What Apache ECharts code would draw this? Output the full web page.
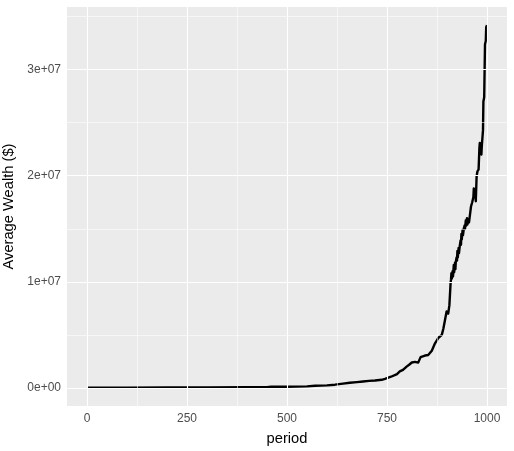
<!DOCTYPE html>
<html>
<head>
<meta charset="utf-8">
<script src="https://cdn.jsdelivr.net/npm/echarts@6/dist/echarts.min.js"></script>
<style>
  html, body { margin: 0; padding: 0; background: #fff; }
  #chart { width: 514px; height: 451px; }
</style>
</head>
<body>
<div id="chart"></div>
<script>
// values
const periods = [0, 100, 200, 300, 400, 450, 460, 500, 550, 570, 600, 620, 640, 657, 675, 690, 705, 720, 737, 745,
  750, 760, 775, 782, 790, 799, 806, 812, 820, 828, 834, 845, 853, 862, 870, 878, 887, 891, 895, 899,
  903, 906, 909, 910, 911, 912, 914, 915, 917, 918, 920, 921, 922, 924, 925, 926, 927, 929, 930, 932,
  934, 935, 936, 937, 939, 940, 942, 944, 945, 947, 948, 950, 951, 953, 955, 957,
  960, 963, 966, 967, 970, 972, 974, 976, 979, 981, 982, 984, 986, 987, 989, 990, 991,
  993, 995, 997, 998, 1000]
const wealth = [20000, 25000, 35000, 45000, 60000, 70000, 100000, 110000, 140000, 200000, 230000, 300000, 400000, 480000, 540000, 600000, 660000, 700000, 760000, 850000,
  900000, 1050000, 1300000, 1550000, 1700000, 2000000, 2200000, 2390000, 2450000, 2380000, 2900000, 3050000, 3100000, 3500000, 4200000, 4700000, 5000000, 5600000, 6400000, 7200000,
  7000000, 7800000, 9900000, 10200000, 10800000, 10300000, 11000000, 10500000, 11600000, 10900000, 11800000, 11200000, 11900000, 12300000, 12000000, 12900000, 12300000, 13200000, 12700000, 13400000,
  13900000, 13500000, 14500000, 14000000, 14900000, 14400000, 15000000, 15300000, 15000000, 15800000, 15300000, 16000000, 15400000, 15900000, 15600000, 16200000,
  17100000, 17500000, 18000000, 18800000, 18500000, 17600000, 19900000, 20400000, 20600000, 22600000, 23100000, 22300000, 22000000, 22800000, 22900000, 24300000, 27000000,
  27400000, 32400000, 32700000, 34000000, 34200000]

const xTicks = [0, 250, 500, 750, 1000]
const xMinor = [125, 375, 625, 875]
const yTicks = [0, 1e7, 2e7, 3e7]
const yMinor = [5e6, 1.5e7, 2.5e7, 3.5e7]
const yTickLabels = ['0e+00', '1e+07', '2e+07', '3e+07']

const chart = echarts.init(document.getElementById('chart'))

const major = { color: '#ffffff', width: 1.1, type: 'solid' }
const minor = { color: '#ffffff', width: 0.55, type: 'solid' }
const gridLines = []
xMinor.forEach(v => gridLines.push({ xAxis: v, lineStyle: minor }))
yMinor.forEach(v => gridLines.push({ yAxis: v, lineStyle: minor }))
xTicks.forEach(v => gridLines.push({ xAxis: v, lineStyle: major }))
yTicks.forEach(v => gridLines.push({ yAxis: v, lineStyle: major }))

const font = 'Liberation Sans, Arial, sans-serif'
const textStyle = { color: '#4D4D4D', fontFamily: font, fontSize: 12 }

chart.setOption({
  animation: false,
  grid: {
    left: 67, right: 7, top: 7, bottom: 45,
    containLabel: false,
    outerBoundsMode: 'none',
    show: true, backgroundColor: '#EBEBEB', borderWidth: 0
  },
  xAxis: {
    type: 'value',
    min: -50, max: 1050,
    name: 'period',
    nameLocation: 'middle',
    nameGap: 25,
    nameTextStyle: { color: '#000', fontFamily: font, fontSize: 14.7 },
    axisLine: { show: false },
    axisTick: { show: true, customValues: xTicks, length: 4, lineStyle: { color: '#333333', width: 1 } },
    axisLabel: { ...textStyle, customValues: xTicks, margin: 7, formatter: v => String(v) },
    splitLine: { show: false }
  },
  yAxis: {
    type: 'value',
    min: -1710000, max: 35910000,
    name: 'Average Wealth ($)',
    nameLocation: 'middle',
    nameGap: 44,
    nameRotate: 90,
    nameTextStyle: { color: '#000', fontFamily: font, fontSize: 14.7 },
    axisLine: { show: false },
    axisTick: { show: true, customValues: yTicks, length: 4, lineStyle: { color: '#333333', width: 1 } },
    axisLabel: {
      ...textStyle,
      customValues: yTicks,
      margin: 6,
      formatter: v => yTickLabels[yTicks.indexOf(v)] || ''
    },
    splitLine: { show: false }
  },
  series: [
    {
      type: 'line',
      z: 1,
      data: [[0, 0]],
      symbol: 'none',
      lineStyle: { opacity: 0 },
      silent: true,
      markLine: {
        silent: true,
        symbol: ['none', 'none'],
        label: { show: false },
        animation: false,
        data: gridLines
      }
    },
    {
      type: 'line',
      z: 3,
      data: periods.map((p, i) => [p, wealth[i]]),
      symbol: 'none',
      lineStyle: { color: '#000000', width: 2.4, join: 'round' }
    }
  ]
})
</script>
</body>
</html>
